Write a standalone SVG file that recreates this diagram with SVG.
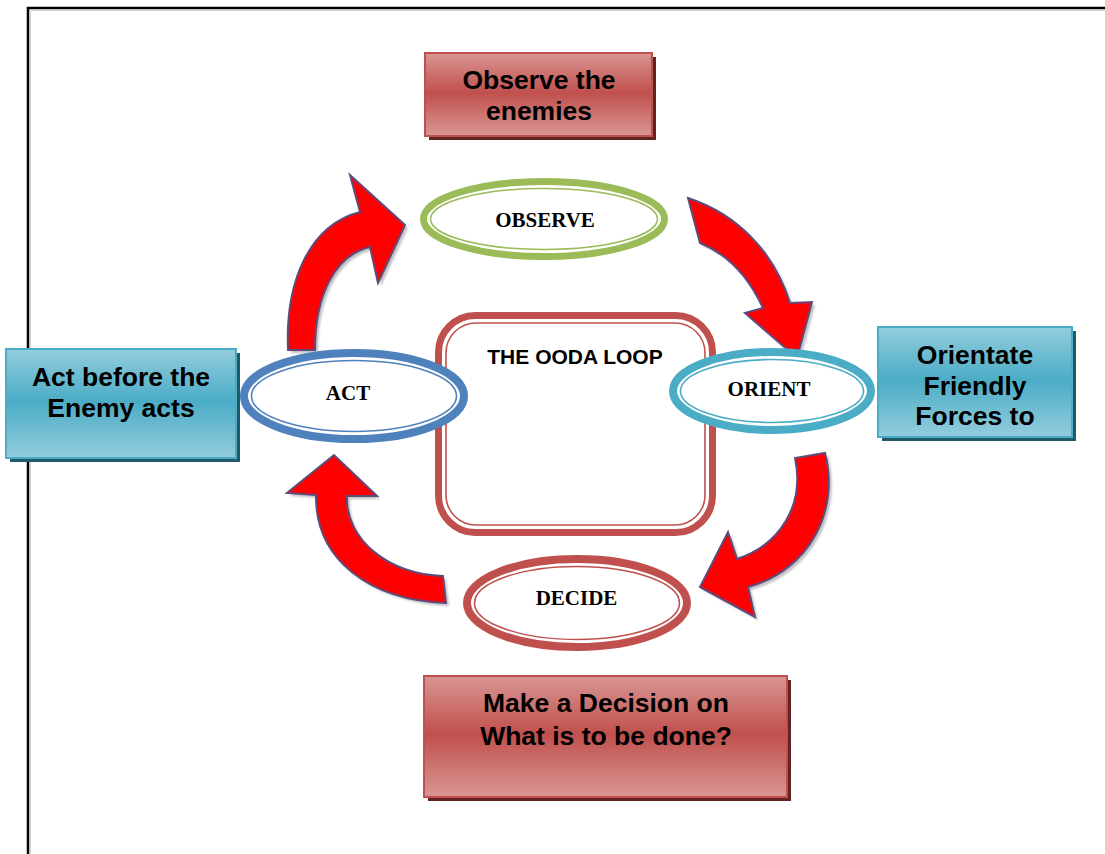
<svg xmlns="http://www.w3.org/2000/svg" width="1105" height="854" viewBox="0 0 1105 854">
  <defs>
    <linearGradient id="gRed" x1="0" y1="0" x2="0" y2="1">
      <stop offset="0" stop-color="#d99694"/>
      <stop offset="0.48" stop-color="#c0504d"/>
      <stop offset="1" stop-color="#d99694"/>
    </linearGradient>
    <linearGradient id="gBlue" x1="0" y1="0" x2="0" y2="1">
      <stop offset="0" stop-color="#93cddd"/>
      <stop offset="0.48" stop-color="#4bacc6"/>
      <stop offset="1" stop-color="#93cddd"/>
    </linearGradient>
    <filter id="soft" x="-10%" y="-10%" width="120%" height="120%">
      <feGaussianBlur stdDeviation="1"/>
    </filter>
  </defs>
  <style>
    .box-text { font-family: "Liberation Sans", Arial, sans-serif; font-weight: bold; font-size: 26.5px; fill: #000; text-anchor: middle; }
    .ell-text { font-family: "Liberation Serif", "Times New Roman", serif; font-weight: bold; font-size: 21px; fill: #000; text-anchor: middle; }
    .title-text { font-family: "Liberation Sans", Arial, sans-serif; font-weight: bold; font-size: 21px; fill: #000; text-anchor: middle; }
    .red-box { fill: url(#gRed); stroke: #c0504d; stroke-width: 2; }
    .red-shadow { fill: #622423; }
    .blue-box { fill: url(#gBlue); stroke: #4bacc6; stroke-width: 2; }
    .blue-shadow { fill: #215968; }
    .ring { fill: #fff; }
    .thin { fill: none; stroke-width: 1.6; }
    .arrow { fill: #ff0000; stroke: #604a7b; stroke-width: 2; stroke-linejoin: miter; }
    .arrow-shadow { fill: #b0b0b0; opacity: 0.8; filter: url(#soft); }
  </style>

  <rect width="1105" height="854" fill="#fff"/>

  <!-- page frame -->
  <path d="M28,854 V8 H1105" fill="none" stroke="#000" stroke-width="2.5"/>
  <path d="M30.5,854 V10.5 H1105" fill="none" stroke="#d0d0d0" stroke-width="1"/>

  <!-- centre panel -->
  <g id="ooda-loop">
    <rect x="438.5" y="315.5" width="274" height="217" rx="37" fill="#fff" stroke="#c0504d" stroke-width="7"/>
    <rect x="446" y="323" width="259" height="202" rx="30" fill="none" stroke="#c0504d" stroke-width="1.6"/>
    <text class="title-text" x="575" y="364">THE OODA LOOP</text>
  </g>

  <!-- curved arrows between the stages -->
  <g id="connectors">
    <g transform="translate(3,3)">
      <path class="arrow-shadow" d="M288,350 C285,280 310,225 360,212 L350,175 L405,225 L378,283 L370,247 C335,255 315,295 315,350 Z"/>
      <path class="arrow-shadow" d="M688,198 C740,215 775,255 790,303 L812,302 L797,358 L745,313 L763,308 C750,280 730,255 700,243 Z"/>
      <path class="arrow-shadow" d="M825,453 C840,510 810,570 748,587 L755,617 L700,587 L728,532 L737,559 C780,545 805,505 795,458 Z"/>
      <path class="arrow-shadow" d="M446,603 C370,600 315,560 316,495 L287,493 L334,455 L377,496 L347,496 C345,540 390,575 443,576 Z"/>
    </g>
    <path id="act-to-observe" class="arrow" d="M288,350 C285,280 310,225 360,212 L350,175 L405,225 L378,283 L370,247 C335,255 315,295 315,350 Z"/>
    <path id="observe-to-orient" class="arrow" d="M688,198 C740,215 775,255 790,303 L812,302 L797,358 L745,313 L763,308 C750,280 730,255 700,243 Z"/>
    <path id="orient-to-decide" class="arrow" d="M825,453 C840,510 810,570 748,587 L755,617 L700,587 L728,532 L737,559 C780,545 805,505 795,458 Z"/>
    <path id="decide-to-act" class="arrow" d="M446,603 C370,600 315,560 316,495 L287,493 L334,455 L377,496 L347,496 C345,540 390,575 443,576 Z"/>
  </g>

  <!-- stage rings -->
  <g id="observe">
    <ellipse class="ring" cx="544" cy="219" rx="120.5" ry="37.5" stroke="#9bbb59" stroke-width="7"/>
    <ellipse class="thin" cx="544" cy="219" rx="113.5" ry="30.5" stroke="#9bbb59"/>
    <text class="ell-text" x="545" y="227">OBSERVE</text>
  </g>
  <g id="orient">
    <ellipse class="ring" cx="772" cy="391" rx="99" ry="39" stroke="#4bacc6" stroke-width="8"/>
    <ellipse class="thin" cx="772" cy="391" rx="91.5" ry="31.5" stroke="#4bacc6"/>
    <text class="ell-text" x="769" y="396">ORIENT</text>
  </g>
  <g id="act">
    <ellipse class="ring" cx="354" cy="396" rx="110" ry="43" stroke="#4f81bd" stroke-width="8"/>
    <ellipse class="thin" cx="354" cy="396" rx="102.5" ry="35.5" stroke="#4f81bd"/>
    <text class="ell-text" x="348" y="400">ACT</text>
  </g>
  <g id="decide">
    <ellipse class="ring" cx="577" cy="603" rx="110" ry="44" stroke="#c0504d" stroke-width="8"/>
    <ellipse class="thin" cx="577" cy="603" rx="102.5" ry="36.5" stroke="#c0504d"/>
    <text class="ell-text" x="576.5" y="605">DECIDE</text>
  </g>

  <!-- callout boxes -->
  <g id="observe-note">
    <rect class="red-shadow" x="429" y="57" width="227" height="83"/>
    <rect class="red-box" x="425" y="53" width="227" height="83"/>
    <text class="box-text" x="539" y="89">Observe the</text>
    <text class="box-text" x="539" y="120">enemies</text>
  </g>
  <g id="orient-note">
    <rect class="blue-shadow" x="882" y="331" width="194" height="110"/>
    <rect class="blue-box" x="878" y="327" width="194" height="110"/>
    <text class="box-text" x="975" y="364">Orientate</text>
    <text class="box-text" x="975" y="395">Friendly</text>
    <text class="box-text" x="975" y="425">Forces to</text>
  </g>
  <g id="act-note">
    <rect class="blue-shadow" x="10" y="353" width="230" height="109"/>
    <rect class="blue-box" x="6" y="349" width="230" height="109"/>
    <text class="box-text" x="121" y="386">Act before the</text>
    <text class="box-text" x="121" y="417">Enemy acts</text>
  </g>
  <g id="decide-note">
    <rect class="red-shadow" x="428" y="680" width="363" height="121"/>
    <rect class="red-box" x="424" y="676" width="363" height="121"/>
    <text class="box-text" x="606" y="712">Make a Decision on</text>
    <text class="box-text" x="606" y="745">What is to be done?</text>
  </g>
</svg>
